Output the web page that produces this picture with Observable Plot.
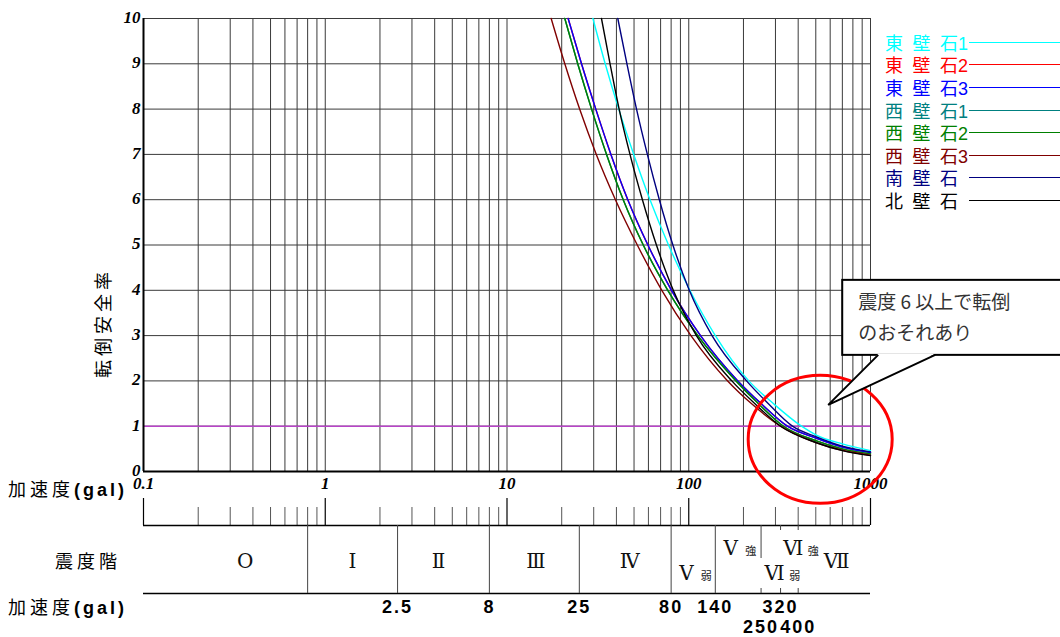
<!DOCTYPE html>
<html><head><meta charset="utf-8">
<script src="https://cdn.jsdelivr.net/npm/d3@7"></script>
<script src="https://cdn.jsdelivr.net/npm/@observablehq/plot@0.6"></script>
<style>
body{margin:0;background:#fff;}
#wrap{position:relative;width:1060px;height:637px;overflow:hidden;font-family:"Noto Sans CJK JP",sans-serif;color:#000;}
.abs{position:absolute;white-space:nowrap;line-height:1;}
.lbl{font-size:18px;letter-spacing:4px;}
.lbl b{font-family:"Liberation Sans",Arial,sans-serif;font-weight:bold;font-size:18px;letter-spacing:3px;}
</style></head><body><div id="wrap"></div>
<script>
// ---- data ----
const seriesNames  = ["東壁石 1","東壁石 2","東壁石 3","西壁石 1","西壁石 2","西壁石 3","南壁石","北壁石"];
const seriesColors = ["#00ffff","#ff0000","#0000ff","#008080","#008000","#800000","#000080","#000000"];

// acceleration (gal) and 転倒安全率
const accel_E1 = [29.7,34.7,41.2,49.8,61.2,77.4,101.4,140,214,292,417,500,700,1000];
const fs_E1    = [10,9,8,7,6,5,4,3,2,1.5,1,0.81,0.61,0.46];
const accel_E2 = [21.7,25.7,30.8,37.3,46.2,59.6,80.4,116.1,186.2,250,349,500,700,1000];
const fs_E2    = [10,9,8,7,6,5,4,3,2,1.5,1,0.74,0.54,0.42];
const accel_E3 = [21.7,25.7,30.8,37.3,46.2,59.6,80.4,116.1,186.2,250,349,500,700,1000];
const fs_E3    = [10,9,8,7,6,5,4,3,2,1.5,1,0.74,0.54,0.42];
const accel_W1 = [20.8,24.5,29.2,35.3,43.6,56.2,76.7,112.2,182,241.5,332,500,700,1000];
const fs_W1    = [10,9,8,7,6,5,4,3,2,1.5,1,0.68,0.50,0.39];
const accel_W2 = [20.8,24.5,29.2,35.3,43.6,56.2,76.7,112.2,182,241.5,332,500,700,1000];
const fs_W2    = [10,9,8,7,6,5,4,3,2,1.5,1,0.68,0.50,0.39];
const accel_W3 = [17.5,20.8,25.1,31.0,39.5,52.1,71.1,102.8,163.7,221,320,500,700,1000];
const fs_W3    = [10,9,8,7,6,5,4,3,2,1.5,1,0.64,0.47,0.36];
const accel_S  = [40.7,45.7,51.6,59.2,68.9,81.8,100.7,134.3,208,273.5,372,500,700,1000];
const fs_S     = [10,9,8,7,6,5,4,3,2,1.5,1,0.77,0.56,0.43];
const accel_N  = [33.1,36.9,41.4,47.5,55.6,66.4,82.2,110.2,172.6,230.7,320,500,700,1000];
const fs_N     = [10,9,8,7,6,5,4,3,2,1.5,1,0.64,0.46,0.35];

const allAccel = [accel_E1,accel_E2,accel_E3,accel_W1,accel_W2,accel_W3,accel_S,accel_N];
const allFs    = [fs_E1,fs_E2,fs_E3,fs_W1,fs_W2,fs_W3,fs_S,fs_N];

const yTicks = [0,1,2,3,4,5,6,7,8,9,10];
const xTickValues = [0.1,1,10,100,1000];
const xTickLabels = ["0.1","1","10","100","1000"];
const limitFs = 1;

// 震度階 scale
const intensityBounds = [0.8,2.5,8,25,80,140];
const intensityPartialBounds = [250,320,400];
const boundLabelsRow1 = ["2.5","8","25","80","140","320"];
const boundValuesRow1 = [2.5,8,25,80,140,320];
const boundLabelsRow2 = ["250","400"];
const boundValuesRow2 = [250,400];
const intensityNames = ["O","Ⅰ","Ⅱ","Ⅲ","Ⅳ","Ⅴ","Ⅴ","Ⅵ","Ⅵ","Ⅶ"];
const intensitySuffix = ["","","","","","弱","強","弱","強",""];
const intensityAt = [0.363,1.41,4.2,14.4,47.3,97,170,297,376,652]; // gal where label sits
const intensityRow = ["mid","mid","mid","mid","mid","low","up","low","up","mid"];

const annotationText = ["震度 6 以上で転倒","のおそれあり"];
const calloutTip = {a: 589, fs: 1.46};
const circleCenter = {a: 532, fs: 0.7};

// ---- build ----
const gridX = [];
for (let e = -1; e < 3; e++) for (let d = 1; d <= 9; d++) gridX.push(+(d * 10 ** e).toPrecision(3));
gridX.push(1000);

const curveData = [];
seriesNames.forEach((s, i) => allAccel[i].forEach((a, j) => curveData.push({series: s, a, fs: allFs[i][j]})));

const W = 1060, ML = 143, MR = 190;
const wrap = document.getElementById("wrap");
const serif = "'Liberation Serif','Times New Roman',serif";

// band (seismic intensity) plot
const rowY = {up: 68, mid: 81, low: 93};
const band = Plot.plot({
  width: W, height: 157, marginTop: 0, marginBottom: 0, marginLeft: ML, marginRight: MR,
  x: {type: "log", domain: [0.1, 1000], axis: null},
  y: {domain: [0, 157], range: [0, 157], axis: null},
  style: {background: "transparent", overflow: "visible", fontFamily: "'Noto Sans CJK JP',sans-serif"},
  marks: [
    Plot.ruleX(gridX.filter(d => !xTickValues.includes(d)), {y1: 27, y2: 45, stroke: "#555", strokeWidth: 1}),
    Plot.ruleX(xTickValues, {y1: 18, y2: 45, stroke: "#000", strokeWidth: 1.2}),
    Plot.ruleY([45, 113], {x1: 0.1, x2: 1000, stroke: "#000", strokeWidth: 1.3}),
    Plot.ruleX(intensityBounds, {y1: 45, y2: 113, stroke: "#444", strokeWidth: 1}),
    Plot.ruleX([250], {y1: 45, y2: 78, stroke: "#444"}),
    Plot.ruleX([320, 400], {y1: 45, y2: 50, stroke: "#444"}),
    Plot.ruleX(intensityPartialBounds, {y1: 108, y2: 113, stroke: "#444"}),
    Plot.text(intensityNames, {x: (d, i) => intensityAt[i], y: (d, i) => rowY[intensityRow[i]], text: d => d,
      fontFamily: "'DejaVu Serif','Liberation Serif',serif", fontSize: 20, fill: "#111"}),
    Plot.text(intensitySuffix, {x: (d, i) => intensityAt[i], y: (d, i) => rowY[intensityRow[i]] + 3, text: d => d,
      dx: 20, fontSize: 11, fill: "#222"}),
    Plot.text(boundLabelsRow1, {x: (d, i) => boundValuesRow1[i], y: 127, text: d => d,
      fontFamily: "'Liberation Sans',Arial,sans-serif", fontWeight: "bold", fontSize: 18}),
    Plot.text(boundLabelsRow2, {x: (d, i) => boundValuesRow2[i], y: 147, text: d => d,
      fontFamily: "'Liberation Sans',Arial,sans-serif", fontWeight: "bold", fontSize: 18})
  ]
});
band.style.position = "absolute"; band.style.left = "0px"; band.style.top = "480px";
band.querySelectorAll("text").forEach(t => { if (/^[0-9.]+$/.test(t.textContent)) t.setAttribute("letter-spacing", "2"); });
wrap.appendChild(band);

// main plot
const main = Plot.plot({
  width: W, height: 500, marginTop: 18, marginBottom: 29, marginLeft: ML, marginRight: MR,
  x: {type: "log", domain: [0.1, 1000], axis: null},
  y: {domain: [0, 10], axis: null},
  color: {domain: seriesNames, range: seriesColors},
  style: {background: "transparent", overflow: "visible"},
  marks: [
    Plot.ruleX(gridX, {stroke: "#3a3a3a", strokeWidth: 1}),
    Plot.ruleY(yTicks, {stroke: "#3a3a3a", strokeWidth: 1}),
    Plot.ruleY([limitFs], {stroke: "#b844c8", strokeWidth: 1.6}),
    Plot.line(curveData, {x: "a", y: "fs", z: "series", stroke: "series", strokeWidth: 1.4, curve: "monotone-x"}),
    Plot.ruleX([0.1], {stroke: "#000", strokeWidth: 2}),
    Plot.ruleY([0], {stroke: "#000", strokeWidth: 2}),
    Plot.text(yTicks, {frameAnchor: "left", y: d => d, text: d => String(d), textAnchor: "end", dx: -3, dy: -1,
      fontFamily: serif, fontWeight: "bold", fontStyle: "italic", fontSize: 17}),
    Plot.text(xTickLabels, {x: (d, i) => xTickValues[i], frameAnchor: "bottom", text: d => d, dy: 17,
      fontFamily: serif, fontWeight: "bold", fontStyle: "italic", fontSize: 17})
  ]
});
main.style.position = "absolute"; main.style.left = "0px"; main.style.top = "0px";
wrap.appendChild(main);

// annotation: red ellipse and callout, anchored in data space
const sx = main.scale("x"), sy = main.scale("y");
const svg = d3.select(main);
const cx = sx.apply(circleCenter.a), cy = sy.apply(circleCenter.fs);
svg.append("ellipse").attr("cx", cx).attr("cy", cy).attr("rx", 72).attr("ry", 64)
  .attr("fill", "none").attr("stroke", "#ff0000").attr("stroke-width", 3);
const tx = sx.apply(calloutTip.a), ty = sy.apply(calloutTip.fs);
const g = svg.append("g");
g.append("rect").attr("x", tx + 14).attr("y", ty - 125).attr("width", 240).attr("height", 75)
  .attr("fill", "#fff").attr("stroke", "#000").attr("stroke-width", 2);
g.append("path").attr("d", `M${tx+50},${ty-51} L${tx},${ty} L${tx+107},${ty-51} Z`).attr("fill", "#fff");
g.append("path").attr("d", `M${tx+50},${ty-50} L${tx},${ty} L${tx+107},${ty-50}`)
  .attr("fill", "none").attr("stroke", "#000").attr("stroke-width", 2);
annotationText.forEach((t, i) => g.append("text").attr("x", tx + 30).attr("y", ty - 103 + i * 31)
  .attr("dy", "0.35em").attr("text-anchor", "start").attr("font-size", 19).attr("fill", "#333")
  .attr("font-family", "'Noto Sans CJK JP',sans-serif").text(t));

// left labels
function addLabel(html, left, top, extra = "") {
  const d = document.createElement("div");
  d.className = "abs lbl"; d.style.left = left + "px"; d.style.top = top + "px";
  d.style.cssText += extra; d.innerHTML = html; wrap.appendChild(d);
  return d;
}
addLabel("加速度<b>(gal)</b>", 8, 479);
addLabel("加速度<b>(gal)</b>", 8, 597);
addLabel("震度階", 55, 551);
addLabel("転倒安全率", 102, 323, "transform:translate(-50%,-50%) rotate(-90deg);");

// legend
seriesNames.forEach((s, i) => {
  const top = 41.7 + i * 22.6;
  const parts = s.split(" ");
  const chars = [...parts[0]];
  const row = document.createElement("div");
  row.className = "abs";
  row.style.left = "885px"; row.style.top = (top - 9) + "px";
  row.style.fontSize = "18px"; row.style.color = seriesColors[i];
  const spaced = parts[1] ? chars.slice(0, -1).join("") : parts[0];
  const rest = parts[1] ? chars[chars.length - 1] : "";
  row.innerHTML = `<span style="letter-spacing:9.5px">${spaced}</span>${rest}` +
    (parts[1] ? `<span style="font-family:'Liberation Sans',Arial,sans-serif">${parts[1]}</span>` : "");
  wrap.appendChild(row);
  const ln = document.createElement("div");
  ln.className = "abs";
  ln.style.left = "969px"; ln.style.width = "91px"; ln.style.top = Math.round(top) + "px";
  ln.style.height = "1px"; ln.style.background = seriesColors[i];
  wrap.appendChild(ln);
});
</script></body></html>
